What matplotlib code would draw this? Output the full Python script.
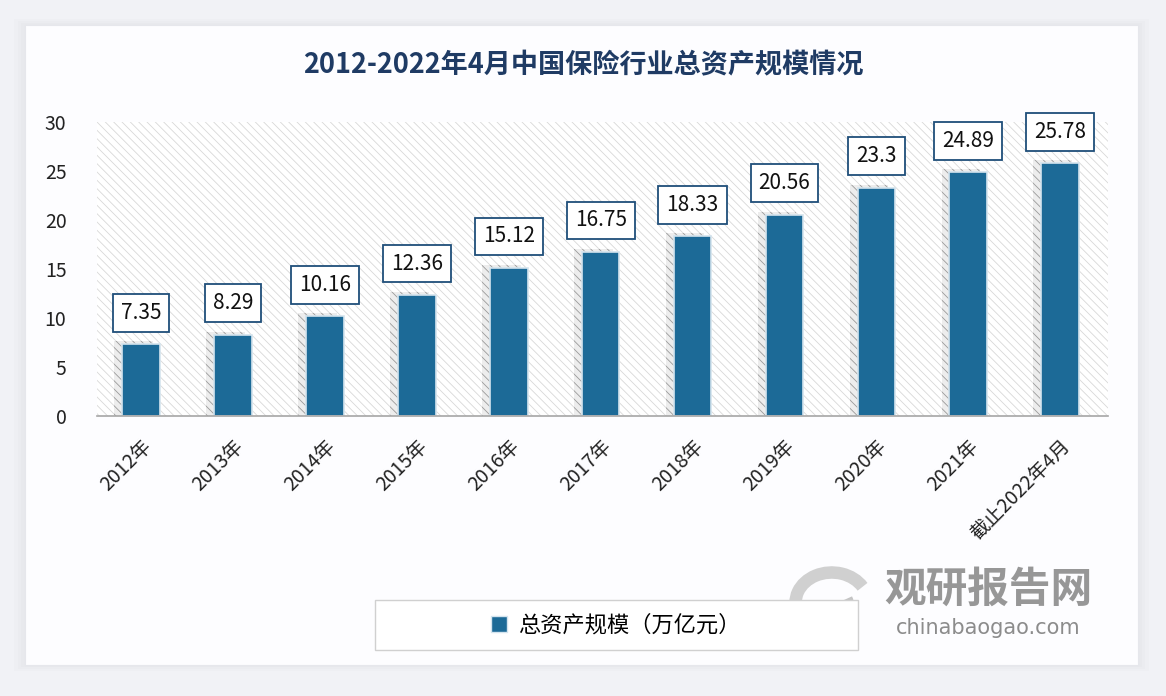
import matplotlib.pyplot as plt
from matplotlib.patches import Rectangle, Arc

plt.rcParams['font.family'] = ['Noto Sans CJK SC', 'DejaVu Sans']
plt.rcParams['hatch.linewidth'] = 0.6

# data
years = ['2012年', '2013年', '2014年', '2015年', '2016年', '2017年',
         '2018年', '2019年', '2020年', '2021年', '截止2022年4月']
assets = [7.35, 8.29, 10.16, 12.36, 15.12, 16.75, 18.33, 20.56, 23.3, 24.89, 25.78]
value_labels = ['7.35', '8.29', '10.16', '12.36', '15.12', '16.75',
                '18.33', '20.56', '23.3', '24.89', '25.78']
y_ticks = [0, 5, 10, 15, 20, 25, 30]

bar_color = '#1c6a97'
navy = '#1f3b64'

fig = plt.figure(figsize=(11.66, 6.96), dpi=100)
fig.patch.set_facecolor('#f1f2f6')

# card with soft shadow
for i, a in enumerate([0.05, 0.05, 0.06]):
    d = (3 - i) * 0.003
    fig.add_artist(Rectangle((0.0214 - d, 0.0445 - d), 0.9546 + 2 * d, 0.9195 + 2 * d,
                             transform=fig.transFigure, facecolor='#b8bcc8',
                             alpha=a, edgecolor='none', zorder=0))
fig.add_artist(Rectangle((0.0214, 0.0445), 0.9546, 0.9195, transform=fig.transFigure,
                         facecolor='#fdfdff', edgecolor='#e6e7ec', lw=0.8, zorder=0))

ax = fig.add_axes([0.0832, 0.4023, 0.8670, 0.4224])
ax.set_facecolor('none')
ax.add_patch(Rectangle((0, 0), 1, 1, transform=ax.transAxes, facecolor='white',
                       edgecolor='#d8d8d8', hatch='\\\\\\\\', lw=0, zorder=0))

x = list(range(len(years)))
# shadows behind bars
ax.bar([i - 0.08 for i in x], [v + 0.3 for v in assets], width=0.42,
       color='#ededed', edgecolor='#9a9a9a', hatch='\\\\\\\\', lw=0, zorder=1)
ax.bar(x, assets, width=0.41, color=bar_color, edgecolor='#d4e4ee', lw=1.2, zorder=2)

for i, v in enumerate(assets):
    ax.text(i, v + 3.2, value_labels[i], ha='center', va='center', fontsize=15,
            color='#111111', zorder=4,
            bbox=dict(boxstyle='square,pad=0.38', facecolor='white',
                      edgecolor='#1f4e79', lw=1.3))

ax.set_xlim(-0.48, 10.52)
ax.set_ylim(0, 30)
ax.set_yticks(y_ticks)
ax.set_yticklabels([str(t) for t in y_ticks], fontsize=14, color='#222222')
ax.set_xticks(x)
ax.set_xticklabels(years, rotation=45, ha='right', va='top', rotation_mode='anchor',
                   fontsize=14, color='#222222')
ax.tick_params(axis='y', length=0, pad=22)
ax.tick_params(axis='x', length=0, pad=14)
for s in ['left', 'right', 'top']:
    ax.spines[s].set_visible(False)
ax.spines['bottom'].set_color('#a6a6a6')
ax.spines['bottom'].set_linewidth(1.2)
ax.spines['bottom'].set_zorder(3)

fig.text(0.5, 0.906, '2012-2022年4月中国保险行业总资产规模情况', ha='center', va='center',
         fontsize=19.5, fontweight='bold', color=navy)

# legend
fig.add_artist(Rectangle((375 / 1166, 1 - 650 / 696), 483 / 1166, 50 / 696,
                         transform=fig.transFigure, facecolor='white',
                         edgecolor='#d0d0d0', lw=1, zorder=2))
handle = Rectangle((0, 0), 1, 1, facecolor=bar_color, edgecolor='#d4e4ee')
leg = fig.legend([handle], ['总资产规模（万亿元）'], loc='center',
                 bbox_to_anchor=(616 / 1166, 1 - 625 / 696), frameon=False,
                 fontsize=16, handlelength=0.7, handleheight=0.7, handletextpad=0.5)
leg.set_zorder(3)

# watermark
wm = fig.add_axes([785 / 1166, 1 - 640 / 696, 85 / 1166, 75 / 696])
wm.set_xlim(0, 1)
wm.set_ylim(0, 1)
wm.axis('off')
wm.add_patch(Arc((0.55, 0.5), 0.85, 0.8, theta1=30, theta2=200, lw=9, color='#d0d0d0'))
wm.add_patch(Arc((0.45, 0.45), 0.6, 0.55, theta1=210, theta2=380, lw=8, color='#c4c4c4'))
fig.text(988 / 1166, 1 - 590 / 696, '观研报告网', ha='center', va='center',
         fontsize=30, fontweight='bold', color='#8c8c8c', alpha=0.9)
fig.text(988 / 1166, 1 - 628 / 696, 'chinabaogao.com', ha='center', va='center',
         fontsize=15, color='#8c8c8c', family=['DejaVu Sans'])

fig.savefig('out.png', dpi=100, facecolor=fig.get_facecolor())
